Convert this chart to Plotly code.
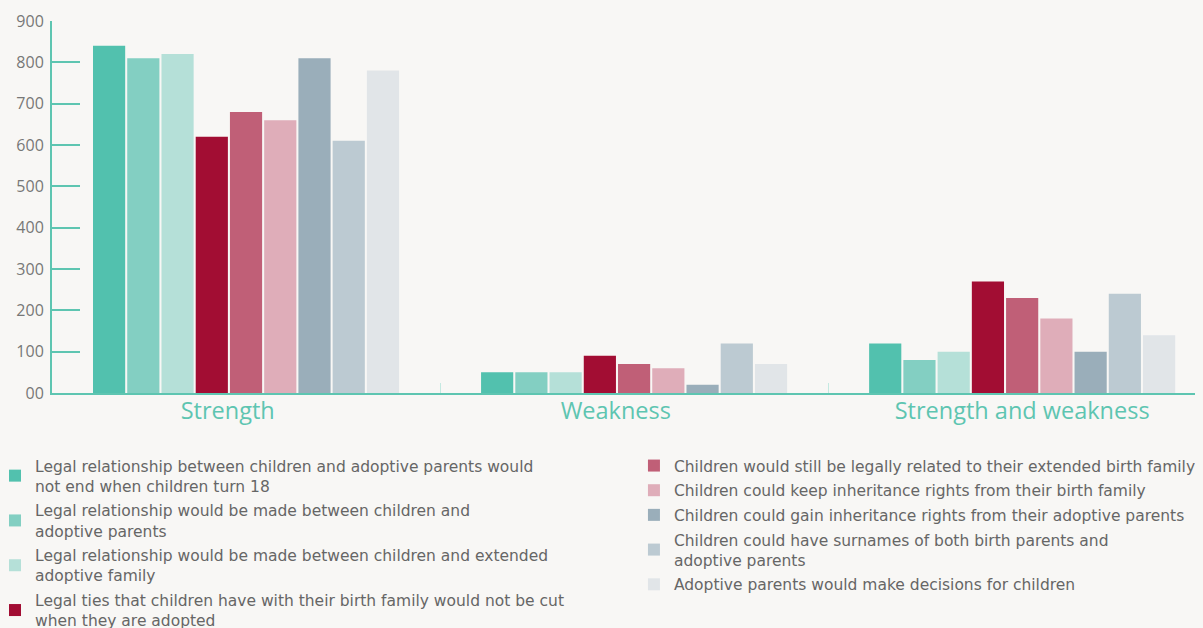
import plotly.graph_objects as go

categories = ["Strength", "Weakness", "Strength and weakness"]

series_names = [
    "Legal relationship between children and adoptive parents would<br>not end when children turn 18",
    "Legal relationship would be made between children and<br>adoptive parents",
    "Legal relationship would be made between children and extended<br>adoptive family",
    "Legal ties that children have with their birth family would not be cut<br>when they are adopted",
    "Children would still be legally related to their extended birth family",
    "Children could keep inheritance rights from their birth family",
    "Children could gain inheritance rights from their adoptive parents",
    "Children could have surnames of both birth parents and<br>adoptive parents",
    "Adoptive parents would make decisions for children",
]

values = [
    [840, 50, 120],
    [810, 50, 80],
    [820, 50, 100],
    [620, 90, 270],
    [680, 70, 230],
    [660, 60, 180],
    [810, 20, 100],
    [610, 120, 240],
    [780, 70, 140],
]

colors = ["#52c1ae", "#83cfc2", "#b5e0d8", "#a20d33", "#c05f77",
          "#dfadb9", "#9aaeba", "#bccad2", "#e1e5e8"]

y_tickvals = [0, 100, 200, 300, 400, 500, 600, 700, 800, 900]
y_ticktext = ["00", "100", "200", "300", "400", "500", "600", "700", "800", "900"]

TEAL = "#5ec5b1"
BG = "#f8f7f5"
FONT = "'Open Sans', sans-serif"
LEGEND_FONT = "'DejaVu Sans', sans-serif"

# category labels sit slightly left of their group centre in the reference
pad = ["\u00a0" * 6, "\u00a0" * 6, ""]
x_ticktext = [c + p for c, p in zip(categories, pad)]

fig = go.Figure()
for i, (name, vals, col) in enumerate(zip(series_names, values, colors)):
    fig.add_trace(go.Bar(
        x=categories, y=vals, name=name,
        marker=dict(color=col, line=dict(width=0)),
        legend="legend" if i < 4 else "legend2",
        legendgroup=f"g{i}",
    ))

legend_style = dict(
    xanchor="left", yanchor="top",
    font=dict(family=LEGEND_FONT, size=15.5, color="#666666"),
    bgcolor="rgba(0,0,0,0)", tracegroupgap=1.5, itemwidth=30,
)

fig.update_layout(
    width=1203, height=628,
    paper_bgcolor=BG, plot_bgcolor=BG,
    margin=dict(l=44, r=8, t=13, b=243, autoexpand=False),
    barmode="group", bargap=0.206, bargroupgap=0.06,
    font=dict(family=FONT, color="#666666"),
    xaxis=dict(
        range=[-0.5, 2.466],
        tickvals=categories, ticktext=x_ticktext,
        showline=True, linecolor=TEAL, linewidth=2,
        tickfont=dict(size=23.5, color=TEAL),
        ticks="inside", tickson="boundaries", ticklen=10,
        tickcolor="#c4e9e1", tickwidth=1,
        ticklabelstandoff=-4,
        showgrid=False, zeroline=False,
    ),
    yaxis=dict(
        range=[0, 900],
        tickvals=y_tickvals, ticktext=y_ticktext,
        showline=True, linecolor=TEAL, linewidth=2,
        ticks="inside", ticklen=28, tickcolor=TEAL, tickwidth=2,
        tickfont=dict(size=16, color="#777777"),
        ticklabelstandoff=3,
        showgrid=False, zeroline=False,
    ),
    legend=dict(x=-0.0495, y=-0.1505, **legend_style),
    legend2=dict(x=0.5056, y=-0.1505, **legend_style),
)

fig.write_html(
    "out.html",
    post_script="document.body.style.backgroundColor='" + BG + "';",
)
